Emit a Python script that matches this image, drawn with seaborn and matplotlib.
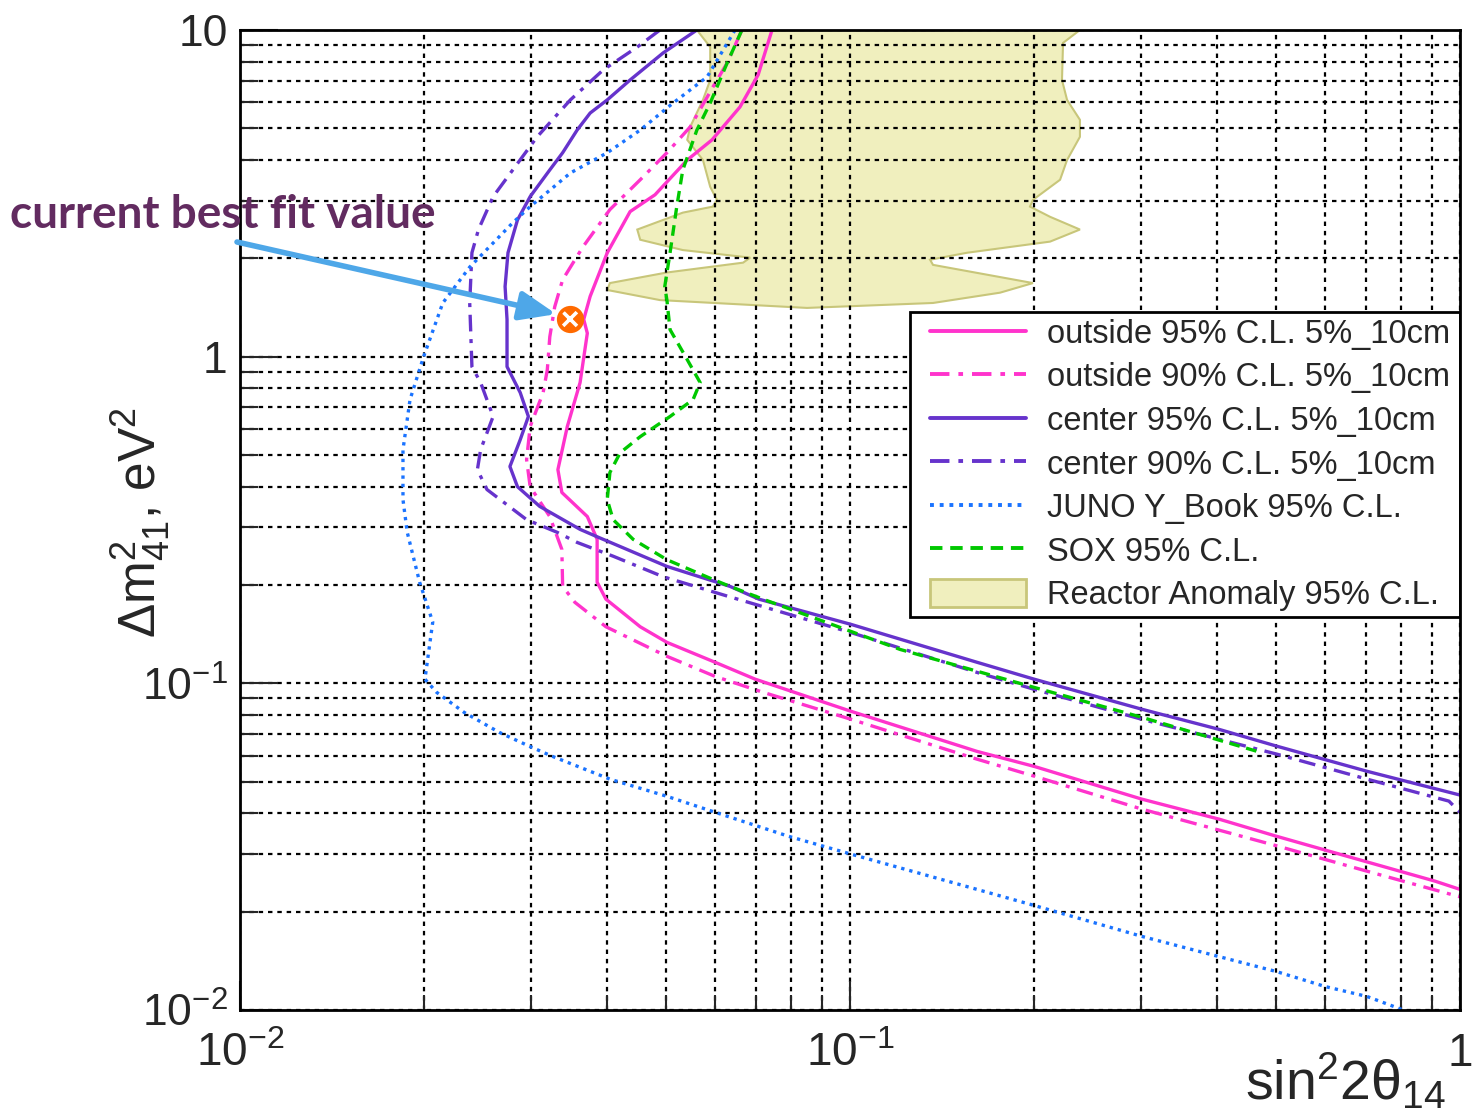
import numpy as np
import matplotlib
matplotlib.use("Agg")
import matplotlib.pyplot as plt
from matplotlib.lines import Line2D
from matplotlib.patches import Patch, Rectangle
from matplotlib.ticker import LogLocator, NullFormatter
import seaborn as sns

# ---------------- exclusion contours (sin^2 2theta_14 , dm^2_41 [eV^2]) ----------------
out95_x = [0.0745, 0.0707, 0.0660, 0.0594, 0.0541, 0.0479, 0.0436, 0.0400, 0.0375, 0.0366,
           0.0371, 0.0361, 0.0344, 0.0332, 0.0337, 0.0371, 0.0385, 0.0385, 0.0398, 0.0453,
           0.0501, 0.0601, 0.0699, 0.1004, 0.1615, 0.2003, 0.301, 0.4026, 0.501, 0.704,
           0.910, 1.0]
out95_y = [10, 7.29, 5.81, 4.61, 4.00, 3.13, 2.78, 2.08, 1.53, 1.30,
           1.18, 0.833, 0.611, 0.451, 0.384, 0.324, 0.276, 0.204, 0.181, 0.149,
           0.1335, 0.116, 0.103, 0.0821, 0.0619, 0.0557, 0.0442, 0.0384, 0.0340, 0.0284,
           0.0248, 0.0234]

out90_x = [0.0665, 0.0629, 0.0596, 0.0547, 0.0501, 0.0453, 0.0404, 0.0365, 0.0338, 0.0328,
           0.0322, 0.0319, 0.0314, 0.0299, 0.0295, 0.0299, 0.0322, 0.0337, 0.0338, 0.0354,
           0.0398, 0.0501, 0.0601, 0.0720, 0.1004, 0.1615, 0.2003, 0.301, 0.501, 0.704, 1.0]
out90_y = [10, 7.93, 6.69, 5.05, 4.21, 3.48, 2.82, 2.17, 1.72, 1.42,
           1.15, 0.912, 0.776, 0.611, 0.484, 0.400, 0.324, 0.257, 0.198, 0.177,
           0.149, 0.121, 0.105, 0.0939, 0.0776, 0.0586, 0.0520, 0.0412, 0.0318, 0.0266, 0.0222]

cen95_x = [0.0561, 0.0494, 0.0436, 0.0400, 0.0375, 0.0357, 0.0338, 0.0322, 0.0299, 0.0285,
           0.0275, 0.0272, 0.0274, 0.0274, 0.0288, 0.0297, 0.0288, 0.0277, 0.0285, 0.0310,
           0.0361, 0.0385, 0.0501, 0.0636, 0.0709, 0.1004, 0.1615, 0.2003, 0.301, 0.4026,
           0.501, 0.704, 1.0]
cen95_y = [10, 8.51, 7.03, 6.11, 5.57, 4.94, 4.21, 3.73, 3.09, 2.62,
           2.08, 1.64, 1.30, 0.932, 0.776, 0.656, 0.557, 0.461, 0.400, 0.348,
           0.296, 0.281, 0.228, 0.198, 0.181, 0.1515, 0.116, 0.103, 0.0833, 0.0723,
           0.0642, 0.0538, 0.0455]

cen90_x = [0.0488, 0.0448, 0.0394, 0.0348, 0.0307, 0.0280, 0.0260, 0.0246, 0.0240, 0.0238,
           0.0240, 0.0248, 0.0260, 0.0248, 0.0245, 0.0254, 0.0295, 0.0331, 0.0357, 0.0409,
           0.0494, 0.0629, 0.1004, 0.1615, 0.2003, 0.301, 0.501, 0.704, 0.959, 1.0]
cen90_y = [10, 8.87, 7.55, 6.11, 4.71, 3.73, 3.09, 2.45, 2.08, 1.46,
           0.932, 0.833, 0.656, 0.519, 0.451, 0.392, 0.317, 0.290, 0.270, 0.245,
           0.212, 0.185, 0.143, 0.108, 0.0959, 0.0776, 0.0607, 0.0509, 0.0436, 0.0403]

juno_x = [0.0648, 0.0583, 0.0513, 0.0453, 0.0400, 0.0348, 0.0299, 0.0280, 0.0238, 0.0215,
          0.0200, 0.0190, 0.0185, 0.0185, 0.0188, 0.0197, 0.0207, 0.0203, 0.0201, 0.0210,
          0.0233, 0.0266, 0.0298, 0.0325, 0.0404, 0.0501, 0.0601, 0.0794, 0.1004, 0.1615,
          0.2003, 0.301, 0.401, 0.501, 0.601, 0.704, 0.807]
juno_y = [10, 7.18, 5.98, 4.94, 4.21, 3.65, 2.88, 2.57, 1.88, 1.46,
          1.0, 0.739, 0.519, 0.365, 0.290, 0.204, 0.154, 0.118, 0.103, 0.0939,
          0.0815, 0.0708, 0.0642, 0.0598, 0.0509, 0.0451, 0.0403, 0.0340, 0.0300, 0.0234,
          0.0209, 0.0168, 0.0146, 0.0131, 0.0118, 0.0110, 0.0100]

sox_x = [0.0665, 0.0629, 0.0590, 0.0561, 0.0532, 0.0520, 0.0507, 0.0497, 0.0501, 0.0507,
         0.0541, 0.0568, 0.0553, 0.0507, 0.0453, 0.0420, 0.0404, 0.0400, 0.0409, 0.0441,
         0.0501, 0.0596, 0.0636, 0.0720, 0.1208, 0.2003, 0.301, 0.465]
sox_y = [10, 7.93, 5.98, 4.94, 3.73, 2.88, 2.08, 1.64, 1.49, 1.21,
         0.979, 0.833, 0.739, 0.656, 0.569, 0.508, 0.442, 0.365, 0.317, 0.276,
         0.239, 0.208, 0.198, 0.181, 0.127, 0.0972, 0.0787, 0.0619]

# reactor anomaly allowed region (closed outline)
ra_x = [0.0561, 0.0590, 0.0590, 0.0574, 0.0547, 0.0541, 0.0574, 0.0590, 0.0605, 0.0596,
        0.0532, 0.0448, 0.0453, 0.0532, 0.0686, 0.0668, 0.0501, 0.0404, 0.0400, 0.0488,
        0.0850, 0.1368, 0.1762, 0.1995, 0.1368, 0.1353, 0.1555, 0.2128, 0.2382, 0.2128,
        0.1973, 0.1995, 0.2210, 0.2269, 0.2382, 0.2382, 0.2269, 0.2226, 0.2235, 0.2382]
ra_y = [10, 8.87, 7.03, 6.11, 5.05, 4.61, 4.00, 3.31, 3.02, 2.88,
        2.76, 2.45, 2.28, 2.12, 2.01, 1.94, 1.81, 1.68, 1.60, 1.49,
        1.41, 1.46, 1.57, 1.68, 1.91, 1.98, 2.08, 2.25, 2.45, 2.68,
        2.88, 3.02, 3.48, 4.00, 4.71, 5.31, 6.11, 7.03, 9.13, 10]

best_fit = (0.0348, 1.30)

labels = ["outside 95% C.L. 5%_10cm", "outside 90% C.L. 5%_10cm",
          "center 95% C.L. 5%_10cm", "center 90% C.L. 5%_10cm",
          "JUNO Y_Book 95% C.L.", "SOX 95% C.L.", "Reactor Anomaly 95% C.L."]

x_ticks = [0.01, 0.1, 1]
x_ticklabels = [r"$10^{-2}$", r"$10^{-1}$", "1"]
y_ticks = [0.01, 0.1, 1, 10]
y_ticklabels = [r"$10^{-2}$", r"$10^{-1}$", "1", "10"]

# ---------------- styling ----------------
MAGENTA = "#ff33cc"
PURPLE = "#6633cc"
BLUE = "#1a73ff"
GREEN = "#00c800"
RA_FILL = "#f0efbe"
RA_EDGE = "#c8c67a"

DASHDOT = (0, (5, 2.3, 1.2, 2.3))
DASHED = (0, (3.2, 2.0))
DOTTED = (0, (1.0, 1.5))

sns.set_style("ticks")
plt.rcParams["font.family"] = ["Liberation Sans", "DejaVu Sans"]
plt.rcParams["mathtext.fontset"] = "custom"
plt.rcParams["mathtext.rm"] = "Liberation Sans"
plt.rcParams["mathtext.it"] = "Liberation Sans:italic"
plt.rcParams["mathtext.bf"] = "Liberation Sans:bold"
plt.rcParams["axes.edgecolor"] = "black"

W, H = 1473, 1118
fig = plt.figure(figsize=(W / 100, H / 100), dpi=100)
ax = fig.add_axes([240 / W, 1 - 1010 / H, 1220 / W, 980 / H])
ax.set_xscale("log")
ax.set_yscale("log")

ax.fill(ra_x, ra_y, facecolor=RA_FILL, edgecolor=RA_EDGE, lw=1.5, zorder=1)

series = [
    (out95_x, out95_y, MAGENTA, "-"),
    (out90_x, out90_y, MAGENTA, DASHDOT),
    (cen95_x, cen95_y, PURPLE, "-"),
    (cen90_x, cen90_y, PURPLE, DASHDOT),
    (juno_x, juno_y, BLUE, DOTTED),
    (sox_x, sox_y, GREEN, DASHED),
]
for xs, ys, col, ls in series:
    sns.lineplot(x=xs, y=ys, sort=False, estimator=None, color=col,
                 linewidth=2.4, linestyle=ls, ax=ax, zorder=3, legend=False)

# best-fit point marker
ax.plot(*best_fit, marker="o", ms=17, mfc="#ff6a00", mec="#ff6a00", zorder=6)
ax.plot(*best_fit, marker="x", ms=10, mew=2.6, color="white", zorder=7)
ax.plot(*best_fit, marker="o", ms=17, mfc="none", mec="#ff6a00", mew=2.6, zorder=8)

ax.set_xlim(0.01, 1)
ax.set_ylim(0.01, 10)

ax.set_xticks(x_ticks)
ax.set_xticklabels(x_ticklabels)
ax.set_yticks(y_ticks)
ax.set_yticklabels(y_ticklabels)
for axis in (ax.xaxis, ax.yaxis):
    axis.set_minor_locator(LogLocator(base=10, subs=np.arange(2, 10)))
    axis.set_minor_formatter(NullFormatter())

ax.tick_params(axis="x", which="major", direction="in", length=21, width=1.5,
               pad=16, labelsize=33, top=False)
ax.tick_params(axis="x", which="minor", direction="in", length=11, width=1.5, top=False)
ax.tick_params(axis="y", which="major", direction="in", length=27, width=1.5,
               pad=9, labelsize=32, right=False)
ax.tick_params(axis="y", which="minor", direction="in", length=13, width=1.5, right=False)

ax.set_axisbelow(False)
ax.grid(True, which="both", color="black", linestyle=(0, (2.0, 2.2)), linewidth=1.6)
for sp in ax.spines.values():
    sp.set_linewidth(2)
    sp.set_color("black")
    sp.set_zorder(9)

# legend box and entries
ax.add_patch(Rectangle((0.549, 0.401), 0.451, 0.311, transform=ax.transAxes,
                       facecolor="white", edgecolor="black", lw=2, zorder=9))
handles = [
    Line2D([], [], color=MAGENTA, lw=2.8, linestyle="-"),
    Line2D([], [], color=MAGENTA, lw=2.8, linestyle=DASHDOT),
    Line2D([], [], color=PURPLE, lw=2.8, linestyle="-"),
    Line2D([], [], color=PURPLE, lw=2.8, linestyle=DASHDOT),
    Line2D([], [], color=BLUE, lw=2.8, linestyle=DOTTED),
    Line2D([], [], color=GREEN, lw=2.8, linestyle=DASHED),
    Patch(facecolor=RA_FILL, edgecolor=RA_EDGE, lw=2),
]
leg = ax.legend(handles, labels, loc="upper left", bbox_to_anchor=(0.5656, 0.706),
                fontsize=23.5, frameon=False, borderpad=0, labelspacing=0.36,
                handlelength=2.95, handleheight=0.9, handletextpad=0.64,
                borderaxespad=0)
leg.set_zorder(10)

# axis titles
fig.text(1446 / W, 1 - 1100 / H, "sin$^{2}$2θ$_{14}$", ha="right",
         va="baseline", fontsize=40)
fig.text(140 / W, 1 - 522 / H, r"$\Delta$m$^{2}_{41}$, eV$^{2}$", rotation=90,
         ha="center", va="center", fontsize=37)

# best-fit annotation
fig.text(10 / W, 1 - 228 / H, "current best fit value", ha="left", va="baseline",
         fontsize=33, fontweight="bold", color="#622b60",
         family=["Lato", "DejaVu Sans"])
ax.annotate("", xy=(0.0330, 1.35), xycoords="data",
            xytext=(237 / W, 1 - 242 / H), textcoords="figure fraction",
            arrowprops=dict(arrowstyle="-|>,head_length=1.0,head_width=0.4",
                            color="#4ea7e8", lw=4, shrinkA=0, shrinkB=0,
                            mutation_scale=22),
            annotation_clip=False, zorder=11)

fig.savefig("out.png", dpi=100)
